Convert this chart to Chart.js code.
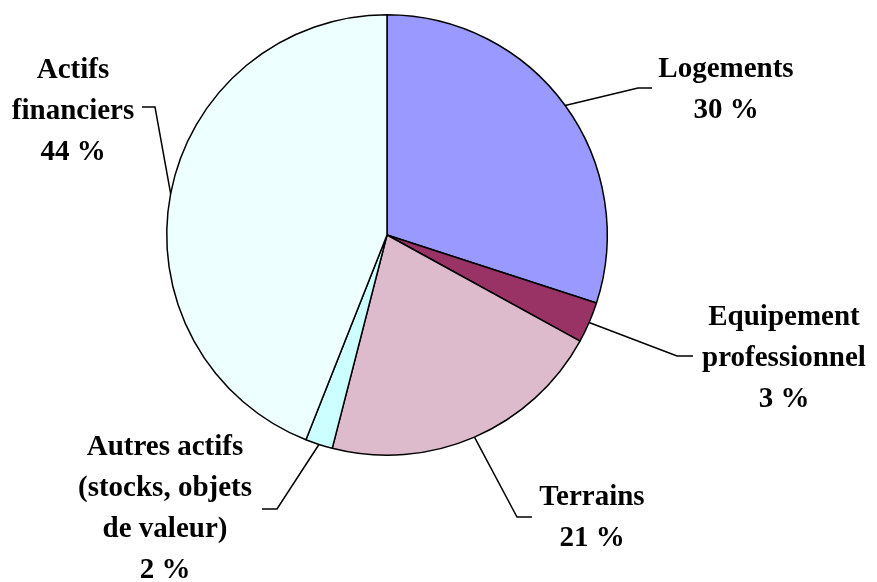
<!DOCTYPE html>
<html>
<head>
<meta charset="utf-8">
<script src="https://cdn.jsdelivr.net/npm/chart.js@4/dist/chart.umd.min.js"></script>
<style>
  html, body { margin: 0; padding: 0; background: #ffffff; }
  #wrap { width: 877px; height: 582px; position: relative; }
</style>
</head>
<body>
<div id="wrap"><canvas id="c" width="877" height="582"></canvas></div>
<script>
// ---- Data ----
const categories = ["Logements", "Equipement professionnel", "Terrains", "Autres actifs (stocks, objets de valeur)", "Actifs financiers"];
const shares = [30, 3, 21, 2, 44];
const labelLines = [
  ["Logements", "30 %"],
  ["Equipement", "professionnel", "3 %"],
  ["Terrains", "21 %"],
  ["Autres actifs", "(stocks, objets", "de valeur)", "2 %"],
  ["Actifs", "financiers", "44 %"]
];
const sliceColors = ["#9999FF", "#993366", "#DDBBCC", "#CCFFFF", "#EEFFFF"];

// ---- Label layout (offsets relative to pie centre) ----
const labelLayout = [
  { elbow: [251, -147], end: [265, -147], textX: 339, base: -158 },
  { elbow: [290, 121],  end: [306, 121],  textX: 397, base: 90 },
  { elbow: [130, 282],  end: [145, 282],  textX: 205, base: 270 },
  { elbow: [-110, 274], end: [-125, 274], textX: -222, base: 220 },
  { elbow: [-232, -128], end: [-245, -128], textX: -314, base: -157 }
];
const lineGap = 41;

const leaderPlugin = {
  id: 'leaders',
  afterDatasetsDraw(chart) {
    const ctx = chart.ctx;
    const meta = chart.getDatasetMeta(0);
    ctx.save();
    ctx.strokeStyle = '#000';
    ctx.lineWidth = 1.5;
    ctx.fillStyle = '#000';
    ctx.font = 'bold 29px "Liberation Serif", "Times New Roman", serif';
    ctx.textAlign = 'center';
    ctx.textBaseline = 'alphabetic';
    meta.data.forEach((arc, i) => {
      const p = arc.getProps(['x', 'y', 'startAngle', 'endAngle', 'outerRadius'], true);
      const mid = (p.startAngle + p.endAngle) / 2;
      const sx = p.x + Math.cos(mid) * p.outerRadius;
      const sy = p.y + Math.sin(mid) * p.outerRadius;
      const L = labelLayout[i];
      ctx.beginPath();
      ctx.moveTo(sx, sy);
      ctx.lineTo(p.x + L.elbow[0], p.y + L.elbow[1]);
      ctx.lineTo(p.x + L.end[0], p.y + L.end[1]);
      ctx.stroke();
      labelLines[i].forEach((t, k) => {
        ctx.fillText(t, p.x + L.textX, p.y + L.base + k * lineGap);
      });
    });
    ctx.restore();
  }
};

new Chart(document.getElementById('c'), {
  type: 'pie',
  data: {
    labels: categories,
    datasets: [{
      data: shares,
      backgroundColor: sliceColors,
      borderColor: '#000000',
      borderWidth: 1.5
    }]
  },
  options: {
    responsive: false,
    devicePixelRatio: 1,
    animation: false,
    layout: { padding: { left: 166, right: 269, top: 14, bottom: 126 } },
    plugins: {
      legend: { display: false },
      tooltip: { enabled: false }
    }
  },
  plugins: [leaderPlugin]
});
</script>
</body>
</html>
